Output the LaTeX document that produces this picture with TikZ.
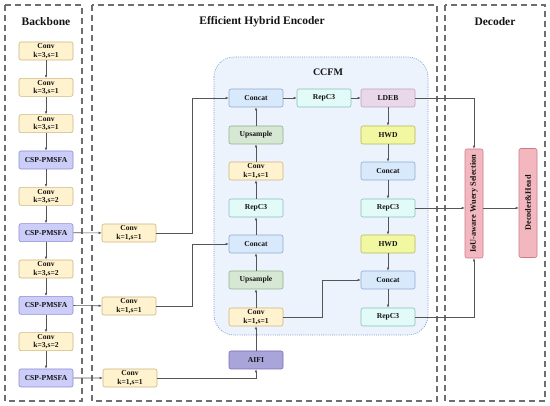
\documentclass[tikz,border=0pt]{standalone}
\usepackage{fontspec}
\setmainfont{Liberation Serif}
\usetikzlibrary{arrows.meta}
\definecolor{ink}{RGB}{20,20,20}
\definecolor{wire}{RGB}{85,85,85}
\definecolor{framegray}{RGB}{110,110,110}
\definecolor{convbg}{RGB}{255,242,206}
\definecolor{convln}{RGB}{205,182,128}
\definecolor{cspbg}{RGB}{205,205,250}
\definecolor{cspln}{RGB}{140,140,210}
\definecolor{catbg}{RGB}{216,233,252}
\definecolor{catln}{RGB}{140,172,210}
\definecolor{upbg}{RGB}{214,231,212}
\definecolor{upln}{RGB}{140,178,140}
\definecolor{repbg}{RGB}{226,250,248}
\definecolor{repln}{RGB}{130,192,188}
\definecolor{ldebbg}{RGB}{232,216,234}
\definecolor{ldebln}{RGB}{190,162,196}
\definecolor{hwdbg}{RGB}{242,247,162}
\definecolor{hwdln}{RGB}{180,186,90}
\definecolor{aifibg}{RGB}{169,165,219}
\definecolor{aifiln}{RGB}{115,110,185}
\definecolor{headbg}{RGB}{243,184,191}
\definecolor{headln}{RGB}{205,122,134}
\definecolor{ccfmbg}{RGB}{237,243,252}
\definecolor{ccfmln}{RGB}{120,150,210}
\newcommand{\stagebox}[4]{%
  \draw[framegray,line width=1.1pt,dash pattern=on 6pt off 4pt] (#1,5) rectangle (#2,401);
  \node[font=\bfseries\fontsize{11.5}{13}\selectfont,text=ink] at (#3,22) {#4};}

\begin{document}
\begin{tikzpicture}[x=1pt,y=-1pt,
  blk/.style={draw,rounded corners=2pt,line width=0.6pt,minimum width=54pt,
    minimum height=18pt,inner sep=0pt,align=center,text=ink,
    font=\bfseries\fontsize{7.6}{8.4}\selectfont},
  conv/.style={blk,fill=convbg,draw=convln},
  csp/.style={blk,fill=cspbg,draw=cspln},
  cat/.style={blk,fill=catbg,draw=catln},
  upsm/.style={blk,fill=upbg,draw=upln},
  rep/.style={blk,fill=repbg,draw=repln},
  ldeb/.style={blk,fill=ldebbg,draw=ldebln},
  hwd/.style={blk,fill=hwdbg,draw=hwdln},
  aifi/.style={blk,fill=aifibg,draw=aifiln},
  headbox/.style={blk,fill=headbg,draw=headln,minimum width=18pt,minimum height=109pt,
    font=\bfseries\fontsize{8.3}{10}\selectfont},
  link/.style={draw=wire,line width=0.6pt,-{Latex[length=3pt,width=2.6pt]}},
]
  \useasboundingbox (0,0) rectangle (550,406);
  % stage frames
  \stagebox{5}{82}{46}{Backbone}
  \stagebox{92}{437}{262}{Efficient Hybrid Encoder}
  \stagebox{445}{545}{495}{Decoder}
  % CCFM region
  \draw[fill=ccfmbg,draw=ccfmln,line width=0.6pt,dash pattern=on 1pt off 1.2pt,
    rounded corners=20pt] (214,57) rectangle (428,335);
  \node[font=\bfseries\fontsize{10}{12}\selectfont,text=ink] at (328,72) {CCFM};

  % backbone
  \foreach \i/\sty/\txt in {1/conv/{Conv\\k=3,s=1},2/conv/{Conv\\k=3,s=1},
      3/conv/{Conv\\k=3,s=1},4/csp/{CSP-PMSFA},5/conv/{Conv\\k=3,s=2},
      6/csp/{CSP-PMSFA},7/conv/{Conv\\k=3,s=2},8/csp/{CSP-PMSFA},
      9/conv/{Conv\\k=3,s=2},10/csp/{CSP-PMSFA}}{
    \node[\sty] (b\i) at (46,{51+(\i-1)*36.33}) {\txt};
  }
  \foreach \i [count=\j from 2] in {1,...,9}
    \draw[link] (b\i) -- (b\j);

  % lateral convs
  \node[conv] (s1) at (129,233) {Conv\\k=1,s=1};
  \node[conv] (s2) at (129,306) {Conv\\k=1,s=1};
  \node[conv] (s3) at (130,378) {Conv\\k=1,s=1};
  \draw[link] (b6) -- (s1);
  \draw[link] (b8) -- (s2);
  \draw[link] (b10) -- (s3);

  % top-down column
  \node[cat]  (m1) at (256,98)  {Concat};
  \node[upsm] (m2) at (256,135) {Upsample};
  \node[conv] (m3) at (256,171) {Conv\\k=1,s=1};
  \node[rep]  (m4) at (256,208) {RepC3};
  \node[cat]  (m5) at (256,244) {Concat};
  \node[upsm] (m6) at (256,280) {Upsample};
  \node[conv] (m7) at (256,317) {Conv\\k=1,s=1};
  \node[aifi] (ai) at (256,360) {AIFI};
  \draw[link] (ai) -- (m7);
  \foreach \i [count=\j from 1] in {2,...,7}
    \draw[link] (m\i) -- (m\j);
  \node[rep] (t1) at (324,98) {RepC3};

  % bottom-up column
  \node[ldeb] (r1) at (388,98)  {LDEB};
  \node[hwd]  (r2) at (388,135) {HWD};
  \node[cat]  (r3) at (388,171) {Concat};
  \node[rep]  (r4) at (388,208) {RepC3};
  \node[hwd]  (r5) at (388,244) {HWD};
  \node[cat]  (r6) at (388,280) {Concat};
  \node[rep]  (r7) at (388,317) {RepC3};
  \foreach \i [count=\j from 2] in {1,...,6}
    \draw[link] (r\i) -- (r\j);
  \draw[link] (m1) -- (t1);
  \draw[link] (t1) -- (r1);

  % cross links
  \draw[link] (s1.east) -- ++(36,0) |- (m1);
  \draw[link] (s2.east) -- ++(36,0) |- (m5);
  \draw[link] (s3.east) -| (ai);
  \draw[link] (m7.east) -- ++(38.5,0) |- (r6);

  % decoder
  \node[headbox] (iou) at (474,203.5) {\rotatebox{90}{IoU-aware Wuery Selection}};
  \node[headbox] (dec) at (528,203) {\rotatebox{90}{Decoder\&Head}};
  \draw[link] (r1.east) -| (iou);
  \draw[link] (r4.east) -- (r4.east -| iou.west);
  \draw[link] (r7.east) -| (iou);
  \draw[link] (r4.east -| iou.east) -- (r4.east -| dec.west);
\end{tikzpicture}
\end{document}
